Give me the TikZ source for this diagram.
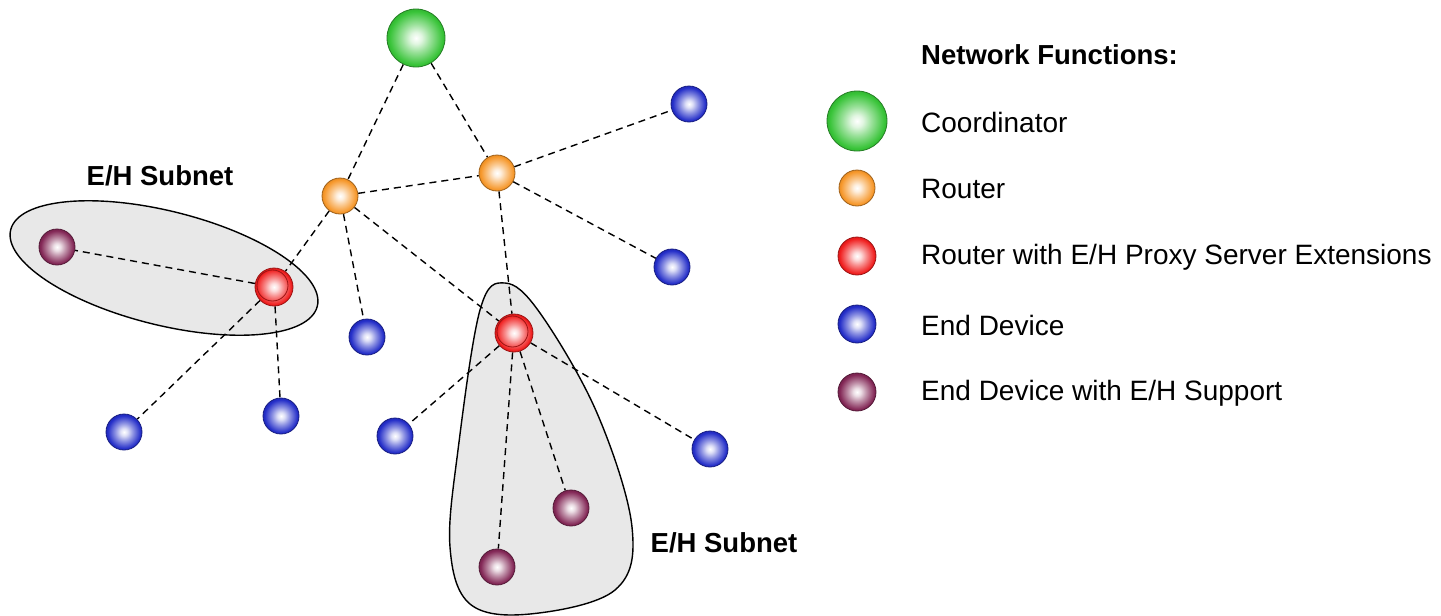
\documentclass[tikz,border=0pt]{standalone}
\usepackage{fontspec}
\setmainfont{Liberation Sans}
\usetikzlibrary{backgrounds}

\definecolor{coordgreen}{RGB}{55,195,55}
\definecolor{routorange}{RGB}{246,150,40}
\definecolor{proxyred}{RGB}{240,30,30}
\definecolor{endblue}{RGB}{35,45,200}
\definecolor{ehpurple}{RGB}{130,38,85}
\definecolor{subgray}{RGB}{232,232,232}
\colorlet{orbcol}{black}

\pgfdeclareradialshading[orbcol]{orb}{\pgfpoint{0bp}{0bp}}{color(0bp)=(white);
  color(5bp)=(white!85!orbcol); color(12bp)=(white!50!orbcol);
  color(23bp)=(orbcol); color(25bp)=(orbcol!94!black); color(50bp)=(orbcol!94!black)}

\tikzset{
  dev/.style={circle, inner sep=0pt, minimum size=36pt, draw=#1!65!black,
    line width=0.8pt, /utils/exec={\colorlet{orbcol}{#1}}, shading=orb},
  coord/.style={dev=coordgreen, minimum size=58pt},
  router/.style={dev=routorange},
  proxy/.style={dev=proxyred, minimum size=38pt},
  proxyring/.style={proxy, path picture={\draw[proxyred!65!black, line width=0.8pt]
    ([shift={(-1.5pt,1.5pt)}]path picture bounding box.center) circle (15.5pt);}},
  enddev/.style={dev=endblue},
  ehdev/.style={dev=ehpurple},
  link/.style={line width=1.4pt, dash pattern=on 7pt off 5pt},
  subnet/.style={draw, fill=subgray, line width=1.4pt},
  lbl/.style={inner sep=0pt, font=\fontsize{28}{32}\selectfont},
  blbl/.style={inner sep=0pt, font=\fontsize{27.5}{32}\selectfont\bfseries}
}

\begin{document}
\begin{tikzpicture}[x=1pt,y=-1pt]
\useasboundingbox (0,0) rectangle (1441,616);

%network
\node[coord] (coord) at (416,38) {};
\node[router] (rt1) at (340,196) {};
\node[router] (rt2) at (497,173) {};
\node[proxyring] (px1) at (274,287) {};
\node[proxyring] (px2) at (514,333) {};

\node[enddev] (ed1) at (689,104) {};
\node[enddev] (ed2) at (672,267) {};
\node[enddev] (ed3) at (367,337) {};
\node[enddev] (ed4) at (124,432) {};
\node[enddev] (ed5) at (281,416) {};
\node[enddev] (ed6) at (395,436) {};
\node[enddev] (ed7) at (710,449) {};

\node[ehdev] (eh1) at (57,247) {};
\node[ehdev] (eh2) at (571,508) {};
\node[ehdev] (eh3) at (497,567) {};

\node[blbl] (sub1) at (160,176) {E/H Subnet};
\node[blbl] (sub2) at (724,543) {E/H Subnet};

\begin{pgfonlayer}{background}
%subnets
\draw[subnet] (164,268) ellipse [x radius=158pt, y radius=57pt, rotate=-14];
\draw[subnet] plot[smooth cycle, tension=0.6] coordinates {(505,283) (540,313)
  (597,413) (632,527) (615,590) (530,614) (470,604) (450,547) (458,450) (480,310)};

%links
\draw[link] (coord) -- (rt1);
\draw[link] (coord) -- (rt2);
\draw[link] (rt1) -- (rt2);
\draw[link] (rt2) -- (ed1);
\draw[link] (rt2) -- (ed2);
\draw[link] (rt2) -- (px2);
\draw[link] (rt1) -- (px1);
\draw[link] (rt1) -- (ed3);
\draw[link] (rt1) -- (px2);
\draw[link] (px1) -- (eh1);
\draw[link] (px1) -- (ed4);
\draw[link] (px1) -- (ed5);
\draw[link] (px2) -- (ed6);
\draw[link] (px2) -- (ed7);
\draw[link] (px2) -- (eh2);
\draw[link] (px2) -- (eh3);
\end{pgfonlayer}

%legend
\node[blbl, anchor=west] (lgtitle) at (921,55) {Network Functions:};
\node[coord, minimum size=60pt] (lgc) at (857,121) {};
\node[lbl, anchor=west] at (921,122) {Coordinator};
\node[router] (lgr) at (857,188) {};
\node[lbl, anchor=west] at (921,189) {Router};
\node[proxy] (lgp) at (857,256) {};
\node[lbl, anchor=west] at (921,257) {Router with E/H Proxy Server Extensions};
\node[enddev, minimum size=38pt] (lge) at (857,324) {};
\node[lbl, anchor=west] at (921,325) {End Device};
\node[ehdev, minimum size=38pt] (lgh) at (857,392) {};
\node[lbl, anchor=west] at (921,393) {End Device with E/H Support};

\end{tikzpicture}
\end{document}
